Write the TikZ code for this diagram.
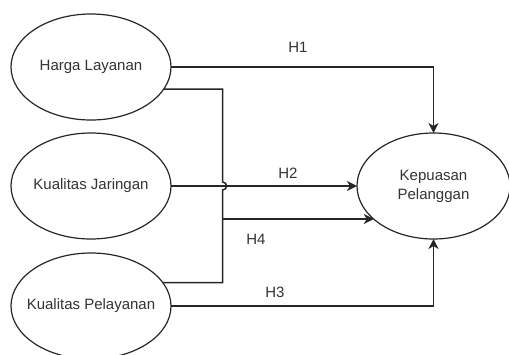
\documentclass[tikz,border=0pt]{standalone}
\usepackage{fontspec}
\setmainfont{Liberation Sans}
\usetikzlibrary{arrows.meta,shapes.geometric}
\begin{document}
\begin{tikzpicture}[x=1bp,y=-1bp,
  font=\fontsize{15bp}{19bp}\selectfont,
  ell/.style={ellipse,draw=black!85,line width=1.2bp,inner sep=0pt,outer sep=0pt,
    minimum width=160bp,minimum height=106bp},
  txt/.style={inner sep=0pt,text=black!80,align=center},
  conn/.style={draw=black!85,line width=1.5bp},
  arr/.style={conn,-{Stealth[length=10bp,width=10bp,inset=3bp]}},
  hlab/.style={inner sep=0pt,text=black!80}]
\useasboundingbox (0,0) rectangle (509,354);
% ellipses
\node[ell] (hl) at (91,67) {};
\node[ell] (kj) at (91,186) {};
\node[ell] (kpel) at (91,306) {};
\node[ell,minimum width=153bp] (kp) at (433.5,186) {};
% texts
\node[txt] (thl) at (hl.center) {Harga Layanan};
\node[txt] (tkj) at (kj.center) {Kualitas Jaringan};
\node[txt] (tkpel) at (kpel.center) {Kualitas Pelayanan};
\node[txt] (tkp) at (kp.center) {Kepuasan\\Pelanggan};
% junction coordinates
\coordinate (jtop) at (222.5,182);
\coordinate (jbot) at (222.5,190);
\coordinate (vm) at (222.5,219);
% connectors
\draw[arr] (hl.east) -| (kp.north);
\draw[arr] (kj.east) -- (kp.west);
\draw[arr] (kpel.east) -| (kp.south);
\draw[conn] (hl.-17) -| (jtop) .. controls +(5.33,0) and +(5.33,0) .. (jbot) |- (kpel.18);
\draw[arr] (vm) -- (vm -| kp.209);
% labels
\node[hlab] (h1) at (298,47) {H1};
\node[hlab] (h2) at (288,173) {H2};
\node[hlab] (h4) at (256,239) {H4};
\node[hlab] (h3) at (275,292) {H3};
\end{tikzpicture}
\end{document}
